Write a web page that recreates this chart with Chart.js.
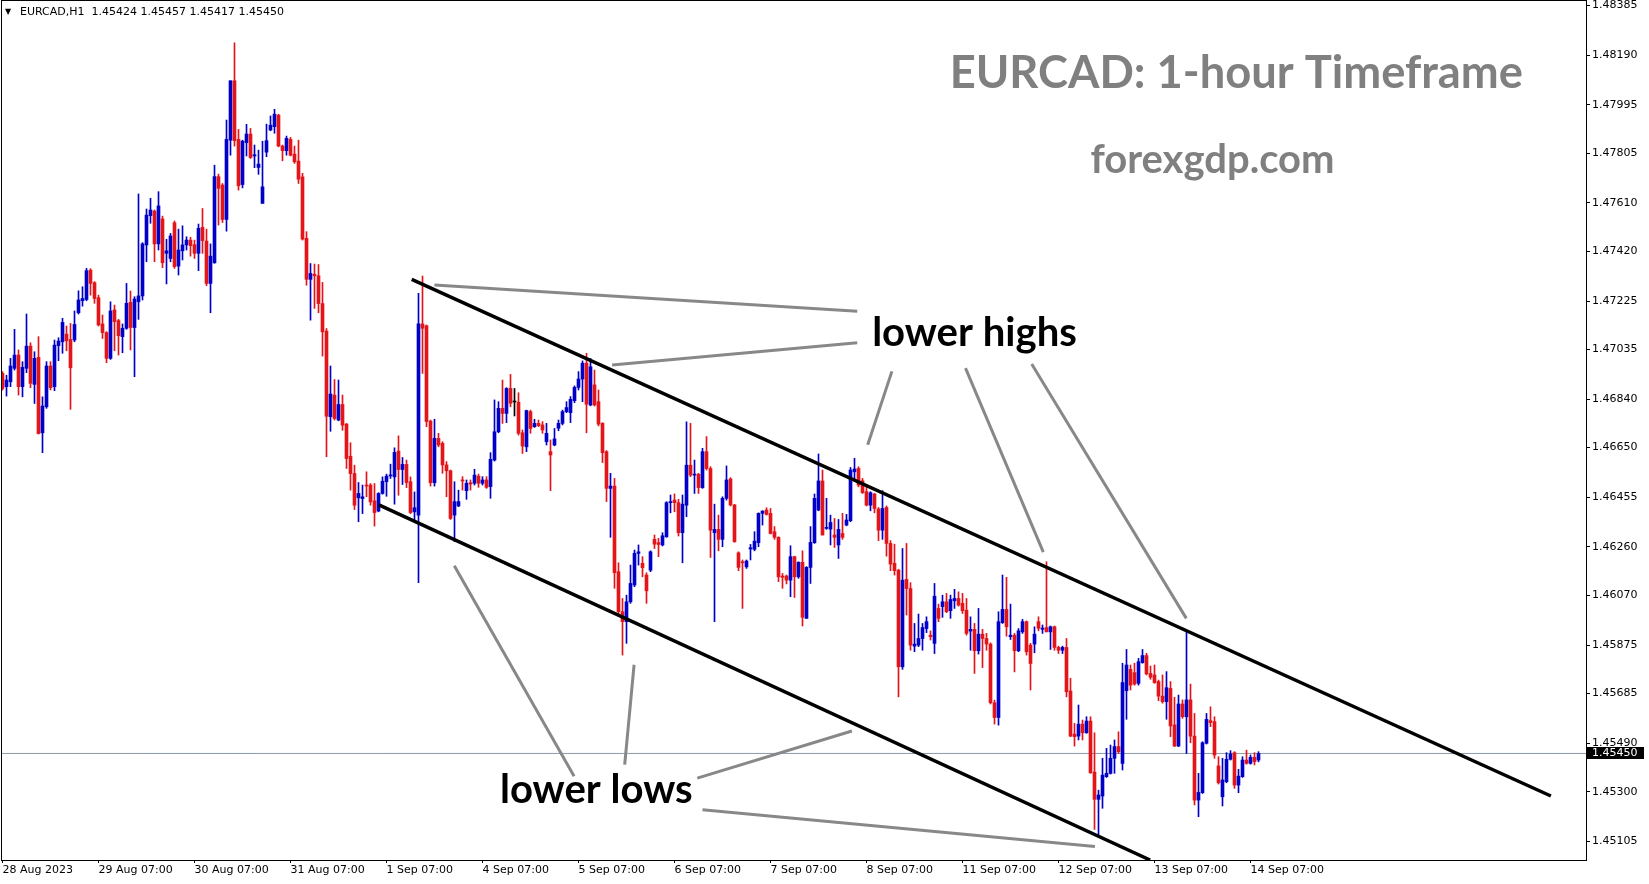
<!DOCTYPE html>
<html>
<head>
<meta charset="utf-8">
<script src="https://cdn.jsdelivr.net/npm/chart.js@4.4.0/dist/chart.umd.min.js"></script>
<style>
  html, body { margin: 0; padding: 0; background: #fff; }
</style>
</head>
<body>
<canvas id="myChart" width="1649" height="884"></canvas>
<script>
// EURCAD H1 bars, one entry per hour, starting 28 Aug 2023 07:00
var opens = [
  1.46941, 1.46889, 1.46908, 1.46961, 1.47013, 1.46889, 1.46961, 1.47048, 1.46898, 1.47004,
  1.46708, 1.46810, 1.46970, 1.46889, 1.47050, 1.47065, 1.47095, 1.47074, 1.47072, 1.47179,
  1.47226, 1.47231, 1.47346, 1.47297, 1.47238, 1.47135, 1.47101, 1.47000, 1.47190, 1.47148,
  1.47085, 1.47118, 1.47220, 1.47121, 1.47222, 1.47245, 1.47445, 1.47560, 1.47578, 1.47449,
  1.47547, 1.47412, 1.47392, 1.47532, 1.47362, 1.47422, 1.47445, 1.47464, 1.47446, 1.47412,
  1.47514, 1.47460, 1.47294, 1.47375, 1.47713, 1.47680, 1.47545, 1.47856, 1.48089, 1.47859,
  1.47682, 1.47846, 1.47880, 1.47794, 1.47749, 1.47608, 1.47809, 1.47896, 1.47909, 1.47954,
  1.47833, 1.47815, 1.47859, 1.47801, 1.47774, 1.47712, 1.47471, 1.47310, 1.47330, 1.47324,
  1.47215, 1.47107, 1.46771, 1.46856, 1.46758, 1.46819, 1.46742, 1.46616, 1.46548, 1.46453,
  1.46450, 1.46503, 1.46503, 1.46441, 1.46401, 1.46470, 1.46516, 1.46539, 1.46535, 1.46636,
  1.46564, 1.46584, 1.46516, 1.46398, 1.46385, 1.47135, 1.47128, 1.46754, 1.46512, 1.46686,
  1.46667, 1.46582, 1.46559, 1.46385, 1.46421, 1.46523, 1.46481, 1.46512, 1.46510, 1.46538,
  1.46510, 1.46523, 1.46497, 1.46601, 1.46712, 1.46804, 1.46784, 1.46882, 1.46829, 1.46828,
  1.46708, 1.46653, 1.46791, 1.46732, 1.46745, 1.46739, 1.46673, 1.46634, 1.46660, 1.46726,
  1.46745, 1.46791, 1.46787, 1.46834, 1.46886, 1.46919, 1.46981, 1.46817, 1.46896, 1.46830,
  1.46745, 1.46634, 1.46490, 1.46499, 1.46163, 1.46006, 1.45967, 1.46045, 1.46111, 1.46235,
  1.46196, 1.46150, 1.46169, 1.46290, 1.46277, 1.46268, 1.46300, 1.46434, 1.46444, 1.46434,
  1.46316, 1.46424, 1.46581, 1.46542, 1.46545, 1.46493, 1.46634, 1.46568, 1.46316, 1.46329,
  1.46290, 1.46451, 1.46527, 1.46425, 1.46237, 1.46202, 1.46182, 1.46252, 1.46251, 1.46277,
  1.46392, 1.46405, 1.46392, 1.46320, 1.46298, 1.46146, 1.46146, 1.46130, 1.46222, 1.46143,
  1.46200, 1.45980, 1.46180, 1.46277, 1.46405, 1.46519, 1.46333, 1.46330, 1.46307, 1.46268,
  1.46313, 1.46346, 1.46363, 1.46555, 1.46568, 1.46520, 1.46477, 1.46424, 1.46468, 1.46409,
  1.46326, 1.46415, 1.46274, 1.46196, 1.46169, 1.45790, 1.46133, 1.46097, 1.45871, 1.45875,
  1.45901, 1.45940, 1.45914, 1.45882, 1.46019, 1.46026, 1.46045, 1.46010, 1.46049, 1.46058,
  1.46039, 1.46012, 1.45930, 1.45937, 1.45853, 1.45918, 1.45901, 1.45879, 1.45649, 1.45591,
  1.45963, 1.46015, 1.45908, 1.45914, 1.45853, 1.45927, 1.45967, 1.45875, 1.45879, 1.45967,
  1.45937, 1.45944, 1.45927, 1.45947, 1.45866, 1.45855, 1.45866, 1.45695, 1.45526, 1.45518,
  1.45565, 1.45531, 1.45577, 1.45377, 1.45270, 1.45283, 1.45359, 1.45372, 1.45431, 1.45477,
  1.45411, 1.45696, 1.45780, 1.45767, 1.45725, 1.45806, 1.45834, 1.45764, 1.45758, 1.45732,
  1.45675, 1.45653, 1.45705, 1.45562, 1.45479, 1.45644, 1.45594, 1.45660, 1.45518, 1.45267,
  1.45296, 1.45490, 1.45579, 1.45575, 1.45401, 1.45280, 1.45339, 1.45427, 1.45453, 1.45326,
  1.45359, 1.45424, 1.45411, 1.45435, 1.45424
];
var highs = [
  1.46948, 1.46934, 1.47000, 1.47114, 1.47033, 1.46987, 1.47174, 1.47061, 1.47026, 1.47085,
  1.46849, 1.46987, 1.46987, 1.47072, 1.47081, 1.47157, 1.47127, 1.47137, 1.47186, 1.47265,
  1.47281, 1.47353, 1.47352, 1.47301, 1.47248, 1.47170, 1.47105, 1.47222, 1.47209, 1.47153,
  1.47135, 1.47294, 1.47264, 1.47242, 1.47645, 1.47454, 1.47586, 1.47628, 1.47582, 1.47654,
  1.47558, 1.47467, 1.47490, 1.47539, 1.47507, 1.47520, 1.47477, 1.47475, 1.47464, 1.47527,
  1.47588, 1.47507, 1.47449, 1.47758, 1.47723, 1.47686, 1.47935, 1.48089, 1.48238, 1.47898,
  1.47856, 1.47918, 1.47902, 1.47837, 1.47817, 1.47852, 1.47919, 1.47951, 1.47977, 1.47958,
  1.47837, 1.47872, 1.47867, 1.47833, 1.47856, 1.47726, 1.47497, 1.47372, 1.47370, 1.47368,
  1.47298, 1.47117, 1.46970, 1.46917, 1.46915, 1.46856, 1.46745, 1.46669, 1.46581, 1.46513,
  1.46503, 1.46555, 1.46509, 1.46509, 1.46473, 1.46535, 1.46546, 1.46585, 1.46649, 1.46696,
  1.46611, 1.46601, 1.46535, 1.46476, 1.47255, 1.47323, 1.47131, 1.46758, 1.46761, 1.46706,
  1.46673, 1.46595, 1.46562, 1.46516, 1.46483, 1.46536, 1.46523, 1.46523, 1.46565, 1.46546,
  1.46536, 1.46536, 1.46630, 1.46837, 1.46830, 1.46915, 1.46885, 1.46937, 1.46882, 1.46865,
  1.46719, 1.46797, 1.46797, 1.46761, 1.46758, 1.46752, 1.46745, 1.46680, 1.46725, 1.46758,
  1.46797, 1.46830, 1.46850, 1.46892, 1.46948, 1.46990, 1.47020, 1.47000, 1.46954, 1.46876,
  1.46748, 1.46638, 1.46549, 1.46529, 1.46198, 1.46058, 1.46071, 1.46189, 1.46248, 1.46268,
  1.46222, 1.46159, 1.46245, 1.46307, 1.46294, 1.46316, 1.46438, 1.46464, 1.46468, 1.46447,
  1.46464, 1.46751, 1.46745, 1.46601, 1.46549, 1.46647, 1.46693, 1.46575, 1.46428, 1.46385,
  1.46457, 1.46578, 1.46532, 1.46427, 1.46241, 1.46209, 1.46209, 1.46270, 1.46320, 1.46394,
  1.46402, 1.46414, 1.46411, 1.46340, 1.46300, 1.46156, 1.46150, 1.46265, 1.46224, 1.46202,
  1.46245, 1.46183, 1.46340, 1.46468, 1.46625, 1.46562, 1.46451, 1.46385, 1.46372, 1.46368,
  1.46392, 1.46388, 1.46572, 1.46608, 1.46575, 1.46529, 1.46503, 1.46477, 1.46470, 1.46415,
  1.46481, 1.46421, 1.46285, 1.46271, 1.46172, 1.46254, 1.46274, 1.46120, 1.45960, 1.45997,
  1.45960, 1.45986, 1.45931, 1.46117, 1.46036, 1.46071, 1.46078, 1.46071, 1.46094, 1.46084,
  1.46078, 1.46058, 1.45986, 1.45960, 1.46019, 1.45937, 1.45921, 1.45884, 1.45659, 1.46006,
  1.46150, 1.46141, 1.46036, 1.45921, 1.45940, 1.45976, 1.45970, 1.45882, 1.45947, 1.45986,
  1.45954, 1.46202, 1.45950, 1.45950, 1.45871, 1.45871, 1.45901, 1.45745, 1.45568, 1.45640,
  1.45581, 1.45594, 1.45594, 1.45531, 1.45306, 1.45431, 1.45470, 1.45483, 1.45503, 1.45535,
  1.45804, 1.45858, 1.45797, 1.45804, 1.45823, 1.45858, 1.45843, 1.45793, 1.45797, 1.45738,
  1.45758, 1.45771, 1.45732, 1.45670, 1.45679, 1.45660, 1.45928, 1.45722, 1.45607, 1.45372,
  1.45496, 1.45607, 1.45633, 1.45594, 1.45437, 1.45431, 1.45453, 1.45461, 1.45457, 1.45388,
  1.45437, 1.45463, 1.45444, 1.45453, 1.45457
];
var lows = [
  1.46875, 1.46852, 1.46889, 1.46954, 1.46856, 1.46849, 1.46944, 1.46885, 1.46823, 1.46703,
  1.46630, 1.46804, 1.46876, 1.46873, 1.46991, 1.47020, 1.47030, 1.46800, 1.47065, 1.47174,
  1.47205, 1.47226, 1.47248, 1.47216, 1.47127, 1.47078, 1.46983, 1.46996, 1.47030, 1.47013,
  1.47022, 1.47114, 1.47033, 1.46928, 1.47153, 1.47229, 1.47379, 1.47530, 1.47379, 1.47425,
  1.47356, 1.47292, 1.47379, 1.47353, 1.47327, 1.47386, 1.47425, 1.47401, 1.47392, 1.47344,
  1.47412, 1.47285, 1.47179, 1.47373, 1.47523, 1.47533, 1.47499, 1.47797, 1.47833, 1.47660,
  1.47669, 1.47794, 1.47784, 1.47748, 1.47722, 1.47608, 1.47791, 1.47893, 1.47883, 1.47830,
  1.47775, 1.47797, 1.47794, 1.47765, 1.47686, 1.47464, 1.47287, 1.47150, 1.47196, 1.47179,
  1.47009, 1.46614, 1.46714, 1.46758, 1.46755, 1.46718, 1.46568, 1.46483, 1.46407, 1.46359,
  1.46391, 1.46457, 1.46424, 1.46342, 1.46398, 1.46467, 1.46459, 1.46529, 1.46428, 1.46463,
  1.46505, 1.46493, 1.46391, 1.46363, 1.46120, 1.46941, 1.46732, 1.46499, 1.46499, 1.46653,
  1.46549, 1.46457, 1.46368, 1.46281, 1.46418, 1.46483, 1.46447, 1.46483, 1.46503, 1.46494,
  1.46503, 1.46490, 1.46451, 1.46597, 1.46708, 1.46745, 1.46748, 1.46810, 1.46774, 1.46699,
  1.46627, 1.46634, 1.46706, 1.46729, 1.46732, 1.46706, 1.46660, 1.46481, 1.46657, 1.46716,
  1.46739, 1.46787, 1.46748, 1.46826, 1.46876, 1.46830, 1.46708, 1.46814, 1.46813, 1.46735,
  1.46591, 1.46438, 1.46298, 1.46098, 1.45999, 1.45836, 1.45882, 1.46039, 1.46104, 1.46189,
  1.46143, 1.46039, 1.46163, 1.46254, 1.46222, 1.46264, 1.46298, 1.46394, 1.46398, 1.46303,
  1.46198, 1.46379, 1.46536, 1.46470, 1.46470, 1.46490, 1.46562, 1.46219, 1.45967, 1.46245,
  1.46261, 1.46444, 1.46421, 1.46278, 1.46167, 1.46019, 1.46176, 1.46209, 1.46245, 1.46261,
  1.46346, 1.46385, 1.46311, 1.46290, 1.46124, 1.46098, 1.46115, 1.46065, 1.46062, 1.46137,
  1.45950, 1.45980, 1.46117, 1.46274, 1.46402, 1.46307, 1.46329, 1.46268, 1.46258, 1.46215,
  1.46290, 1.46343, 1.46359, 1.46523, 1.46496, 1.46470, 1.46421, 1.46402, 1.46394, 1.46285,
  1.46290, 1.46224, 1.46167, 1.46150, 1.45672, 1.45780, 1.45993, 1.45855, 1.45849, 1.45869,
  1.45855, 1.45924, 1.45895, 1.45842, 1.45967, 1.45984, 1.46002, 1.45980, 1.46019, 1.46028,
  1.45999, 1.45914, 1.45855, 1.45764, 1.45840, 1.45787, 1.45855, 1.45644, 1.45565, 1.45561,
  1.45960, 1.45910, 1.45897, 1.45770, 1.45849, 1.45921, 1.45836, 1.45699, 1.45845, 1.45931,
  1.45921, 1.45927, 1.45858, 1.45855, 1.45842, 1.45842, 1.45672, 1.45516, 1.45479, 1.45503,
  1.45503, 1.45529, 1.45372, 1.45152, 1.45123, 1.45235, 1.45356, 1.45369, 1.45372, 1.45450,
  1.45385, 1.45584, 1.45699, 1.45718, 1.45718, 1.45804, 1.45758, 1.45741, 1.45725, 1.45657,
  1.45647, 1.45584, 1.45516, 1.45477, 1.45477, 1.45588, 1.45450, 1.45492, 1.45248, 1.45202,
  1.45293, 1.45487, 1.45555, 1.45431, 1.45330, 1.45244, 1.45335, 1.45424, 1.45313, 1.45296,
  1.45356, 1.45408, 1.45408, 1.45405, 1.45417
];
var closes = [
  1.46882, 1.46915, 1.46970, 1.47013, 1.46889, 1.46965, 1.47048, 1.46902, 1.47000, 1.46705,
  1.46813, 1.46970, 1.46885, 1.47052, 1.47068, 1.47141, 1.47069, 1.46963, 1.47133, 1.47229,
  1.47235, 1.47344, 1.47294, 1.47235, 1.47131, 1.47101, 1.47000, 1.47186, 1.47144, 1.47089,
  1.47118, 1.47216, 1.47121, 1.47233, 1.47245, 1.47449, 1.47562, 1.47582, 1.47449, 1.47598,
  1.47375, 1.47422, 1.47480, 1.47360, 1.47425, 1.47445, 1.47464, 1.47442, 1.47412, 1.47510,
  1.47462, 1.47294, 1.47401, 1.47713, 1.47667, 1.47545, 1.47859, 1.48089, 1.47854, 1.47677,
  1.47852, 1.47880, 1.47788, 1.47799, 1.47762, 1.47673, 1.47854, 1.47915, 1.47958, 1.47833,
  1.47815, 1.47863, 1.47797, 1.47771, 1.47703, 1.47468, 1.47310, 1.47333, 1.47324, 1.47215,
  1.47104, 1.46773, 1.46860, 1.46764, 1.46819, 1.46738, 1.46607, 1.46548, 1.46424, 1.46470,
  1.46457, 1.46499, 1.46437, 1.46395, 1.46470, 1.46518, 1.46538, 1.46543, 1.46631, 1.46564,
  1.46584, 1.46513, 1.46395, 1.46414, 1.47135, 1.47118, 1.46752, 1.46512, 1.46686, 1.46660,
  1.46582, 1.46559, 1.46372, 1.46438, 1.46438, 1.46519, 1.46510, 1.46507, 1.46542, 1.46510,
  1.46523, 1.46494, 1.46604, 1.46712, 1.46804, 1.46784, 1.46882, 1.46824, 1.46829, 1.46706,
  1.46656, 1.46795, 1.46725, 1.46745, 1.46736, 1.46719, 1.46706, 1.46621, 1.46684, 1.46745,
  1.46791, 1.46807, 1.46839, 1.46886, 1.46919, 1.46981, 1.46820, 1.46967, 1.46817, 1.46742,
  1.46630, 1.46490, 1.46499, 1.46159, 1.46006, 1.45967, 1.46045, 1.46117, 1.46235, 1.46241,
  1.46179, 1.46088, 1.46241, 1.46271, 1.46270, 1.46304, 1.46434, 1.46438, 1.46434, 1.46316,
  1.46428, 1.46581, 1.46542, 1.46545, 1.46493, 1.46634, 1.46568, 1.46326, 1.46329, 1.46290,
  1.46451, 1.46523, 1.46425, 1.46281, 1.46180, 1.46198, 1.46205, 1.46257, 1.46283, 1.46392,
  1.46401, 1.46388, 1.46313, 1.46298, 1.46143, 1.46141, 1.46130, 1.46222, 1.46143, 1.46200,
  1.45984, 1.46180, 1.46278, 1.46451, 1.46519, 1.46307, 1.46336, 1.46356, 1.46298, 1.46329,
  1.46298, 1.46366, 1.46562, 1.46566, 1.46503, 1.46473, 1.46424, 1.46473, 1.46411, 1.46326,
  1.46411, 1.46274, 1.46193, 1.46167, 1.45790, 1.46130, 1.46097, 1.45875, 1.45879, 1.45901,
  1.45944, 1.45967, 1.45908, 1.46067, 1.45980, 1.46045, 1.46006, 1.46054, 1.46058, 1.46032,
  1.46010, 1.45921, 1.45937, 1.45853, 1.45918, 1.45901, 1.45879, 1.45649, 1.45591, 1.45967,
  1.46015, 1.45947, 1.45914, 1.45853, 1.45931, 1.45967, 1.45849, 1.45803, 1.45918, 1.45941,
  1.45942, 1.45927, 1.45947, 1.45866, 1.45855, 1.45866, 1.45692, 1.45518, 1.45516, 1.45565,
  1.45531, 1.45577, 1.45374, 1.45270, 1.45287, 1.45365, 1.45372, 1.45431, 1.45477, 1.45457,
  1.45728, 1.45797, 1.45718, 1.45722, 1.45810, 1.45834, 1.45762, 1.45749, 1.45728, 1.45675,
  1.45653, 1.45708, 1.45558, 1.45479, 1.45644, 1.45594, 1.45660, 1.45518, 1.45267, 1.45297,
  1.45492, 1.45584, 1.45571, 1.45444, 1.45335, 1.45346, 1.45427, 1.45448, 1.45326, 1.45361,
  1.45424, 1.45411, 1.45435, 1.45418, 1.45450
];

// time axis: a label every 24 bars
var dateLabels = ["28 Aug 2023", "29 Aug 07:00", "30 Aug 07:00", "31 Aug 07:00", "1 Sep 07:00",
  "4 Sep 07:00", "5 Sep 07:00", "6 Sep 07:00", "7 Sep 07:00", "8 Sep 07:00",
  "11 Sep 07:00", "12 Sep 07:00", "13 Sep 07:00", "14 Sep 07:00"];
var barsPerLabel = 24;

var priceTicks = [1.48385, 1.48190, 1.47995, 1.47805, 1.47610, 1.47420, 1.47225, 1.47035, 1.46840,
  1.46650, 1.46455, 1.46260, 1.46070, 1.45875, 1.45685, 1.45490, 1.45300, 1.45105];

var symbolInfo = "EURCAD,H1  1.45424 1.45457 1.45417 1.45450";
var lastPrice = 1.45450;

// channel lines and pointer lines as [bar, price] pairs
var upperChannel = [[102.3, 1.47310], [387.1, 1.45283]];
var lowerChannel = [[94.1, 1.46425], [286.9, 1.45032]];
var highPointers = [
  [[107.98, 1.47288], [213.68, 1.47185]],
  [[152.40, 1.46974], [213.68, 1.47061]],
  [[216.30, 1.46661], [222.35, 1.46949]],
  [[240.75, 1.46962], [260.20, 1.46240]],
  [[257.30, 1.46978], [295.95, 1.45980]]
];
var lowPointers = [
  [[112.95, 1.46186], [142.90, 1.45361]],
  [[157.90, 1.45798], [155.55, 1.45406]],
  [[173.70, 1.45353], [212.35, 1.45538]],
  [[175.00, 1.45229], [273.10, 1.45085]]
];

// visible window
var xMin = -0.125, xMax = 395.875;
var yMin = 1.45032, yMax = 1.48402;

var BULL = '#0000c8';
var BEAR = '#e3151b';

var candleColors = opens.map(function (o, i) {
  if (closes[i] > o) return BULL;
  if (closes[i] < o) return BEAR;
  return '#000000';
});
var wickData = opens.map(function (o, i) { return { x: i, y: [lows[i], highs[i]] }; });
var bodyData = opens.map(function (o, i) { return { x: i, y: [o, closes[i]] }; });

function segment(pts, color, width) {
  return {
    type: 'line',
    data: pts.map(function (p) { return { x: p[0], y: p[1] }; }),
    borderColor: color,
    borderWidth: width,
    pointRadius: 0,
    order: 0
  };
}

var datasets = [];
datasets.push(segment(upperChannel, '#000000', 3.5));
datasets.push(segment(lowerChannel, '#000000', 3.5));
highPointers.forEach(function (s) { datasets.push(segment(s, '#888888', 3)); });
lowPointers.forEach(function (s) { datasets.push(segment(s, '#888888', 3)); });
datasets.push({
  type: 'bar', data: bodyData, backgroundColor: candleColors,
  barThickness: 3, minBarLength: 1, grouped: false, order: 1
});
datasets.push({
  type: 'bar', data: wickData, backgroundColor: candleColors,
  barThickness: 1, grouped: false, order: 2
});
// last price line
var priceLine = segment([[xMin, lastPrice], [xMax, lastPrice]], '#8b9aab', 1);
priceLine.order = 3;
datasets.push(priceLine);

function fitFont(c, text, width, family) {
  c.font = 'bold 100px ' + family;
  return 100 * width / c.measureText(text).width;
}

var overlay = {
  id: 'overlay',
  afterDatasetsDraw: function (chart) {
    var c = chart.ctx, xs = chart.scales.x, ys = chart.scales.y;
    var notes = [
      { text: "EURCAD: 1-hour Timeframe", at: [308.45, 1.48060], w: 573, color: '#808080' },
      { text: "forexgdp.com", at: [302.5, 1.47729], w: 244, color: '#808080' },
      { text: "lower highs", at: [243.0, 1.47049], w: 205, color: '#000000' },
      { text: "lower lows", at: [148.45, 1.45254], w: 193, color: '#000000' }
    ];
    c.save();
    c.textAlign = 'center';
    c.textBaseline = 'alphabetic';
    notes.forEach(function (n) {
      var size = fitFont(c, n.text, n.w, 'Lato');
      c.font = 'bold ' + size.toFixed(1) + 'px Lato';
      c.fillStyle = n.color;
      c.fillText(n.text, xs.getPixelForValue(n.at[0]), ys.getPixelForValue(n.at[1]));
    });
    c.restore();
  },
  afterDraw: function (chart) {
    var c = chart.ctx, a = chart.chartArea, ys = chart.scales.y;
    c.save();
    // frame
    c.strokeStyle = '#000';
    c.lineWidth = 1;
    c.strokeRect(a.left - 0.5, a.top - 0.5, a.right - a.left + 1, a.bottom - a.top + 1);
    // header
    c.fillStyle = '#000';
    c.textBaseline = 'middle';
    c.textAlign = 'left';
    c.font = '8px DejaVu Sans';
    c.fillText('\u25BC', a.left + 3, a.top + 11);
    c.font = '11px DejaVu Sans';
    c.fillText(symbolInfo, a.left + 18, a.top + 11);
    // last price tag
    var y = Math.round(ys.getPixelForValue(lastPrice));
    c.fillStyle = '#000';
    c.fillRect(a.right + 1, y - 6, 57, 12);
    c.fillStyle = '#fff';
    c.font = '11px DejaVu Sans';
    c.fillText(lastPrice.toFixed(5), a.right + 6, y);
    c.restore();
  }
};

var ctx = document.getElementById('myChart').getContext('2d');
var myChart = new Chart(ctx, {
  type: 'bar',
  data: { datasets: datasets },
  options: {
    responsive: false,
    animation: false,
    events: [],
    layout: { padding: { left: 2, top: 1, right: 0, bottom: 0 } },
    plugins: {
      legend: { display: false },
      tooltip: { enabled: false }
    },
    scales: {
      x: {
        type: 'linear',
        offset: false,
        min: xMin,
        max: xMax,
        afterBuildTicks: function (scale) {
          scale.ticks = dateLabels.map(function (l, k) { return { value: k * barsPerLabel }; });
        },
        afterFit: function (scale) {
          scale.height = 24;
          scale.paddingLeft = 0;
          scale.paddingRight = 0;
        },
        ticks: {
          autoSkip: false,
          maxRotation: 0,
          align: 'start',
          padding: 1,
          color: '#000',
          font: { family: 'DejaVu Sans', size: 11 },
          callback: function (v, k) { return dateLabels[k]; }
        },
        grid: { offset: false, drawOnChartArea: false, tickLength: 3, color: '#000' },
        border: { display: true, color: '#000' }
      },
      y: {
        position: 'right',
        min: yMin,
        max: yMax,
        afterBuildTicks: function (scale) {
          scale.ticks = priceTicks.map(function (v) { return { value: v }; });
        },
        afterFit: function (scale) {
          scale.width = 63;
          scale.paddingTop = 0;
          scale.paddingBottom = 0;
        },
        ticks: {
          padding: 2,
          color: '#000',
          font: { family: 'DejaVu Sans', size: 11 },
          callback: function (v) { return Number(v).toFixed(5); }
        },
        grid: { drawOnChartArea: false, tickLength: 4, color: '#000' },
        border: { display: true, color: '#000' }
      }
    }
  },
  plugins: [overlay]
});
</script>
</body>
</html>
